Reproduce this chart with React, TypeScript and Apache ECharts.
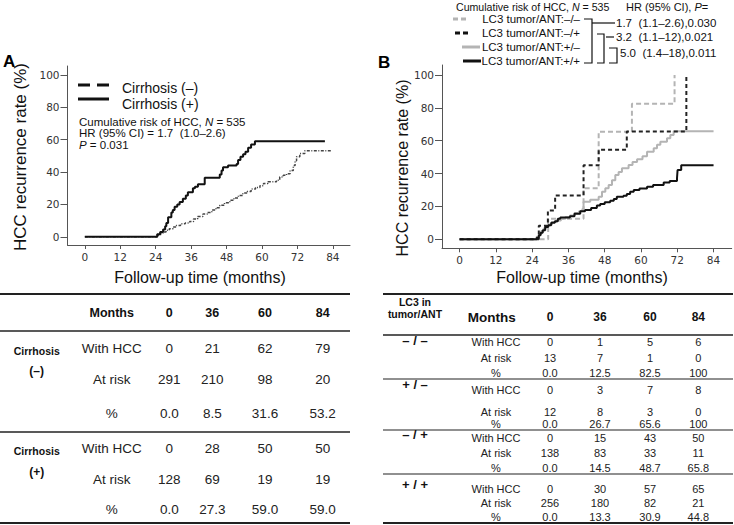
import React, { useEffect, useRef } from 'react';
import * as echarts from 'echarts';

const FONT = '"Liberation Sans", Arial, sans-serif';
const TICKFONT = '"DejaVu Sans", sans-serif';

const xTicks = [0, 12, 24, 36, 48, 60, 72, 84];
const yTicks = [0, 20, 40, 60, 80, 100];

// Panel A: cumulative HCC recurrence (%) vs follow-up month
const cirrhosisNeg = [
  [0, 0], [24.8, 0.8], [25.6, 2], [26.5, 3], [27.5, 4], [28.6, 5], [29.9, 6], [31, 7], [32.4, 8],
  [34, 8.5], [35.5, 9.5], [36.8, 11], [38.2, 12.5], [40, 14], [41.5, 15], [43, 16.5], [44.4, 18],
  [45.7, 19.5], [47.3, 21], [49.1, 22.5], [50.5, 24], [52, 25.5], [53.5, 27], [55, 28], [56.3, 29.5],
  [57.8, 30.5], [59.3, 31.6], [60.5, 33], [62, 34], [64.9, 35], [66, 37], [67.2, 38], [68.3, 39],
  [69.5, 41], [70.6, 44], [71.2, 47], [71.7, 49.5], [72.8, 51.5], [74.5, 53.2], [83.6, 53.2],
];
const cirrhosisPos = [
  [0, 0], [24.5, 1.5], [25.5, 3], [26.5, 4.5], [27.2, 6.5], [27.6, 8.5], [28.2, 12], [29.3, 15],
  [29.8, 16.5], [30.4, 18.5], [31.3, 20], [32.1, 21.5], [33.2, 23.5], [34.2, 25.5], [34.9, 27.5],
  [36.6, 30], [37.3, 31], [38.3, 32.5], [40.6, 36.5], [45.7, 38.5], [46.3, 41], [46.8, 43], [48.5, 44],
  [51.4, 45], [51.9, 47.5], [52.7, 49.5], [53.6, 51], [54.4, 52.5], [55.3, 55], [56.3, 57], [57.6, 59],
  [81.3, 59],
];

// Panel B
const lc3NegNeg = [[0, 0], [29.3, 12.5], [41, 31], [46, 65.5], [57, 82.5], [71.1, 100]];
const lc3NegPos = [[0, 0], [26.2, 8.3], [29.2, 17.5], [31.6, 26.7], [41, 45], [46, 54.5], [55.3, 65.6], [75, 100]];
const lc3PosNeg = [
  [0, 0], [25.5, 1.5], [26.3, 3], [27, 5], [27.8, 6.5], [28.6, 8], [29.5, 9], [30.5, 10.5], [32, 11.5],
  [33.5, 12.5], [35, 13.5], [36.5, 14.5], [38, 16], [39.5, 17], [40.6, 18.5], [41, 22.9], [43.2, 24],
  [46, 25.9], [47.1, 29], [48.2, 31], [49.3, 33], [50.4, 36], [51.5, 39.1], [52.6, 41], [53.7, 43.2],
  [55.9, 45.2], [57.2, 47], [58.7, 48.7], [60.5, 50.5], [62, 53.3], [64.2, 55.4], [65.3, 57.5],
  [66.4, 59.4], [68.6, 61.5], [69.7, 63.5], [70.8, 65.8], [84, 65.8],
];
const lc3PosPos = [
  [0, 0], [25.5, 1], [26.2, 2.5], [26.8, 4], [27.5, 5.5], [28.3, 7.5], [29.3, 8.5], [30.3, 10],
  [31.5, 11], [32.5, 12.5], [33.3, 13.3], [36.5, 14], [38, 15.5], [39.9, 17], [41.5, 17.8], [43.5, 19],
  [45.4, 20.5], [46.5, 21.5], [48, 22.5], [49.8, 23.5], [51, 24.5], [52, 25.9], [54.2, 26.5],
  [55.3, 27.5], [56.4, 29], [57.6, 30], [59.5, 30.9], [62, 32], [64, 33], [67.5, 34.5], [69.5, 35.5],
  [71.9, 37], [72.1, 42.2], [73.3, 45], [84, 45],
];

// Tables
const tableMonths = ['0', '36', '60', '84'];
const rowLabels = ['With HCC', 'At risk', '%'];
const cirrNegWithHCC = ['0', '21', '62', '79'];
const cirrNegAtRisk = ['291', '210', '98', '20'];
const cirrNegPct = ['0.0', '8.5', '31.6', '53.2'];
const cirrPosWithHCC = ['0', '28', '50', '50'];
const cirrPosAtRisk = ['128', '69', '19', '19'];
const cirrPosPct = ['0.0', '27.3', '59.0', '59.0'];

const lc3Groups = ['– / –', '+ / –', '– / +', '+ / +'];
const nnWithHCC = ['0', '1', '5', '6'];
const nnAtRisk = ['13', '7', '1', '0'];
const nnPct = ['0.0', '12.5', '82.5', '100'];
const pnWithHCC = ['0', '3', '7', '8'];
const pnAtRisk = ['12', '8', '3', '0'];
const pnPct = ['0.0', '26.7', '65.6', '100'];
const npWithHCC = ['0', '15', '43', '50'];
const npAtRisk = ['138', '83', '33', '11'];
const npPct = ['0.0', '14.5', '48.7', '65.8'];
const ppWithHCC = ['0', '30', '57', '65'];
const ppAtRisk = ['256', '180', '82', '21'];
const ppPct = ['0.0', '13.3', '30.9', '44.8'];

const legendB = ['LC3 tumor/ANT:–/–', 'LC3 tumor/ANT:–/+', 'LC3 tumor/ANT:+/–', 'LC3 tumor/ANT:+/+'];
const hrTexts = ['1.7  (1.1–2.6),0.030', '3.2  (1.1–12),0.021', '5.0  (1.4–18),0.011'];

function txt(x: number, y: number, text: string, o: any = {}) {
  return {
    type: 'text', x, y, silent: true,
    rotation: o.rotation || 0,
    style: {
      text, fontFamily: FONT, fontSize: o.size || 12, fontWeight: o.bold ? 'bold' : 'normal',
      fill: o.color || '#111', align: o.align || 'left', verticalAlign: 'middle', rich: o.rich,
    },
  };
}
function ln(x1: number, y1: number, x2: number, y2: number, o: any = {}) {
  return {
    type: 'line', silent: true, shape: { x1, y1, x2, y2 },
    style: { stroke: o.color || '#111', lineWidth: o.width || 1, lineDash: o.dash || null },
  };
}
function pl(points: number[][], o: any = {}) {
  return { type: 'polyline', silent: true, shape: { points }, style: { stroke: '#111', fill: 'none', lineWidth: o.width || 1.2 } };
}

function axisX(gridIndex: number, min: number, max: number) {
  return {
    type: 'value', gridIndex, min, max,
    axisLine: { show: true, onZero: false, lineStyle: { color: '#555', width: 1 } },
    axisTick: { show: true, length: 4, customValues: xTicks, lineStyle: { color: '#555' } },
    axisLabel: { customValues: xTicks, margin: 6, fontFamily: TICKFONT, fontSize: 10.5, color: '#333' },
    splitLine: { show: false },
  };
}
function axisY(gridIndex: number, min: number, max: number) {
  return {
    type: 'value', gridIndex, min, max,
    axisLine: { show: true, onZero: false, lineStyle: { color: '#555', width: 1 } },
    axisTick: { show: true, length: 7, customValues: yTicks, lineStyle: { color: '#555' } },
    axisLabel: { customValues: yTicks, margin: 8, fontFamily: TICKFONT, fontSize: 10.5, color: '#333' },
    splitLine: { show: false },
  };
}
function km(data: number[][], idx: number, color: string, width: number, type: any, z: number) {
  return {
    type: 'line', xAxisIndex: idx, yAxisIndex: idx, data, step: 'end', symbol: 'none', silent: true, z,
    lineStyle: { color, width, type },
  };
}

function buildGraphics() {
  const g: any[] = [];
  const italicRich = (size: number) => ({
    a: { fontFamily: FONT, fontSize: size, fill: '#111' },
    i: { fontFamily: FONT, fontSize: size, fill: '#111', fontStyle: 'italic' },
  });
  // Panel labels
  g.push(txt(3, 61, 'A', { size: 17, bold: true, color: '#000' }));
  g.push(txt(378, 62, 'B', { size: 17, bold: true, color: '#000' }));
  // Axis titles
  g.push(txt(20, 157, 'HCC recurrence rate (%)', { size: 17, align: 'center', rotation: Math.PI / 2 }));
  g.push(txt(200, 277, 'Follow-up time (months)', { size: 16, align: 'center' }));
  g.push(txt(402, 168, 'HCC recurrence rate (%)', { size: 16, align: 'center', rotation: Math.PI / 2 }));
  g.push(txt(582, 277, 'Follow-up time (months)', { size: 16, align: 'center' }));

  // Legend A
  g.push(ln(78, 85, 109, 85, { width: 3, dash: [12, 7] }));
  g.push(ln(78, 99, 109, 99, { width: 3 }));
  g.push(txt(122, 88, 'Cirrhosis (–)', { size: 14 }));
  g.push(txt(122, 104, 'Cirrhosis (+)', { size: 14 }));
  g.push(txt(79, 122, '{a|Cumulative risk of HCC, }{i|N}{a| = 535}', { size: 11.5, rich: italicRich(11.5) }));
  g.push(txt(79, 133, 'HR (95% CI) = 1.7  (1.0–2.6)', { size: 11.5 }));
  g.push(txt(79, 145, '{i|P}{a| = 0.031}', { size: 11.5, rich: italicRich(11.5) }));

  // Legend B
  g.push(txt(456, 7, '{a|Cumulative risk of HCC, }{i|N}{a| = 535}', { size: 10.6, rich: italicRich(10.6) }));
  g.push(txt(626, 7, '{a|HR (95% CI), }{i|P}{a|=}', { size: 11, rich: italicRich(11) }));
  const rowsY = [19, 33, 47, 61];
  g.push(ln(453, rowsY[0], 466, rowsY[0], { width: 3, color: '#b4b4b4', dash: [5, 3] }));
  g.push(ln(455, rowsY[1], 468, rowsY[1], { width: 3, color: '#111', dash: [5, 3] }));
  g.push(ln(462, rowsY[2], 480, rowsY[2], { width: 3, color: '#b4b4b4' }));
  g.push(ln(463, rowsY[3], 481, rowsY[3], { width: 3, color: '#111' }));
  legendB.forEach((t, i) => g.push(txt(580, rowsY[i], t, { size: 11.5, align: 'right' })));
  const bot = rowsY[3] + 2;
  g.push(pl([[584, rowsY[0]], [592, rowsY[0]], [592, bot], [584, bot]]));
  g.push(pl([[597, rowsY[1] + 1], [604, rowsY[1] + 1], [604, bot], [597, bot]]));
  g.push(pl([[609, rowsY[2] + 1], [617, rowsY[2] + 1], [617, bot], [609, bot]]));
  g.push(ln(592, 23, 615, 23, { width: 1.2 }));
  g.push(ln(606, 37, 614, 37, { width: 1.2 }));
  g.push(txt(616, 23, hrTexts[0], { size: 11.5 }));
  g.push(txt(616, 37, hrTexts[1], { size: 11.5 }));
  g.push(txt(620, 53, hrTexts[2], { size: 11.5 }));

  // Table A
  const aCols = [169.3, 212.3, 265, 322.7];
  const aLab = 111.7;
  g.push(ln(0, 294, 350, 294, { width: 2, color: '#222' }));
  g.push(ln(0, 331, 350, 331, { width: 1.5, color: '#222' }));
  g.push(ln(0, 432, 350, 432, { width: 1.5, color: '#222' }));
  g.push(ln(0, 523, 350, 523, { width: 2, color: '#222' }));
  g.push(txt(aLab, 313, 'Months', { size: 12.5, bold: true, align: 'center' }));
  tableMonths.forEach((m, i) => g.push(txt(aCols[i], 313, m, { size: 12.5, bold: true, align: 'center' })));
  const aGroups = [
    { label: '(–)', y: [348.5, 379.5, 413.5], rows: [cirrNegWithHCC, cirrNegAtRisk, cirrNegPct], gy: 351, sy: 371 },
    { label: '(+)', y: [448.5, 479.5, 509.5], rows: [cirrPosWithHCC, cirrPosAtRisk, cirrPosPct], gy: 451, sy: 472 },
  ];
  aGroups.forEach((gr) => {
    g.push(txt(36.7, gr.gy, 'Cirrhosis', { size: 10.5, bold: true, align: 'center' }));
    g.push(txt(36.7, gr.sy, gr.label, { size: 12, bold: true, align: 'center' }));
    gr.rows.forEach((vals, r) => {
      g.push(txt(aLab, gr.y[r], rowLabels[r], { size: 13.5, align: 'center', color: '#222' }));
      vals.forEach((v, c) => g.push(txt(aCols[c], gr.y[r], v, { size: 13.5, align: 'center', color: '#222' })));
    });
  });

  // Table B
  const bCols = [550, 600, 650, 698.3];
  const bLab = 496;
  g.push(ln(383, 294, 733, 294, { width: 2, color: '#222' }));
  g.push(ln(383, 335, 733, 335, { width: 1.5, color: '#222' }));
  [379, 430, 474].forEach((y) => g.push(ln(383, y, 733, y, { width: 1.2, color: '#222' })));
  g.push(ln(383, 523, 733, 523, { width: 2, color: '#222' }));
  g.push(txt(415, 302, 'LC3 in', { size: 10.5, bold: true, align: 'center' }));
  g.push(txt(415, 313.5, 'tumor/ANT', { size: 10.5, bold: true, align: 'center' }));
  g.push(txt(491.7, 317, 'Months', { size: 13.5, bold: true, align: 'center' }));
  tableMonths.forEach((m, i) => g.push(txt(bCols[i], 317, m, { size: 12, bold: true, align: 'center' })));
  const bGroups = [
    { gy: 340, y: [341.7, 358.3, 372.7], rows: [nnWithHCC, nnAtRisk, nnPct] },
    { gy: 384, y: [390, 411.7, 424], rows: [pnWithHCC, pnAtRisk, pnPct] },
    { gy: 434, y: [438.3, 453.3, 467.7], rows: [npWithHCC, npAtRisk, npPct] },
    { gy: 484, y: [489, 503.3, 517.3], rows: [ppWithHCC, ppAtRisk, ppPct] },
  ];
  bGroups.forEach((gr, gi) => {
    g.push(txt(415, gr.gy, lc3Groups[gi], { size: 13, bold: true, align: 'center' }));
    gr.rows.forEach((vals, r) => {
      g.push(txt(bLab, gr.y[r], rowLabels[r], { size: 11, align: 'center', color: '#222' }));
      vals.forEach((v, c) => g.push(txt(bCols[c], gr.y[r], v, { size: 11, align: 'center', color: '#222' })));
    });
  });
  return g;
}

export default function App() {
  const ref = useRef<HTMLDivElement>(null);
  useEffect(() => {
    if (!ref.current) return;
    const chart = echarts.init(ref.current, null, { renderer: 'svg' });
    chart.setOption({
      animation: false,
      backgroundColor: '#ffffff',
      grid: [
        { left: 67.5, top: 66, width: 282.5, height: 179 },
        { left: 442, top: 65, width: 289.7, height: 183.3 },
      ],
      xAxis: [axisX(0, -5.87, 89.8), axisX(1, -5.82, 90.0)],
      yAxis: [axisY(0, -5.1, 105.6), axisY(1, -5.48, 106.1)],
      series: [
        km(cirrhosisNeg, 0, '#444', 1.5, [3, 1.5, 1, 1.5], 2),
        km(cirrhosisPos, 0, '#111', 2, 'solid', 3),
        km(lc3NegNeg, 1, '#b4b4b4', 2, [5, 3], 2),
        km(lc3PosNeg, 1, '#b4b4b4', 2, 'solid', 2),
        km(lc3NegPos, 1, '#222', 2, [4, 3], 3),
        km(lc3PosPos, 1, '#111', 2, 'solid', 3),
      ],
      graphic: buildGraphics(),
    });
    return () => chart.dispose();
  }, []);
  return (
    <div
      ref={ref}
      style={{ position: 'fixed', left: 0, top: 0, width: 734, height: 525, background: '#fff' }}
    />
  );
}
